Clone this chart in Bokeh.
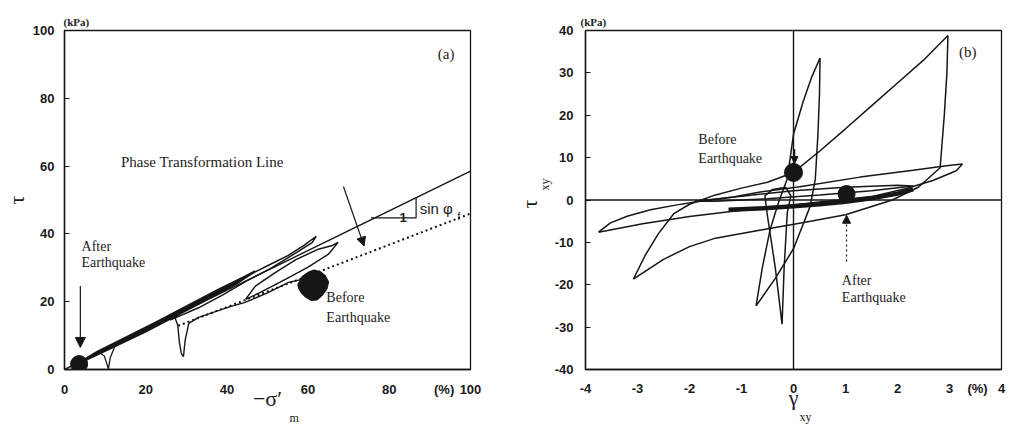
import math
from bokeh.plotting import figure
from bokeh.layouts import row
from bokeh.models import Label, Arrow, NormalHead, Range1d, Span, Title
from bokeh.embed import file_html
from bokeh.resources import INLINE

# ---------------- data: panel (a) ----------------
a_xticks = [0, 20, 40, 60, 80, 100]
a_yticks = [0, 20, 40, 60, 80, 100]
a_unit_pos = 93.5          # where the "(%)" unit text sits on the x axis
failure_x = [0, 100]
failure_y = [0, 58.5]
phase_x = [28, 100]
phase_y = [12.9, 46.0]
tri_x = [75.5, 86.6, 86.6]
tri_y = [44.7, 44.7, 50.7]

band_x = [2.5, 8, 15, 22, 30, 38, 44, 47, 43, 36, 28, 20, 12, 6, 2.5]
band_y = [1.2, 5.2, 9.4, 13.6, 18.6, 23.6, 27.2, 29.0, 25.8, 21.2, 16.2, 11.2, 6.6, 3.2, 1.2]
up_x = [26, 32, 38, 44, 50, 55, 59, 62, 61, 57, 51, 45, 39, 33, 28, 26]
up_y = [14.6, 19.2, 23.4, 27.0, 30.6, 33.6, 36.6, 39.3, 37.4, 34.4, 30.0, 26.2, 22.0, 18.2, 15.6, 14.6]
oval_x = [44.6, 48, 54.4, 60, 65, 67.4, 66, 62.5, 57, 51.9, 47, 44.6]
oval_y = [20.7, 22.6, 26.6, 30.2, 34.0, 37.5, 36.6, 35.5, 32.4, 28.6, 24.6, 20.7]
low_x = [22, 25.5, 27.1, 27.9, 28.3, 28.8, 29.3, 29.7, 30.6, 33, 37, 41, 44.5, 50, 55.2, 60]
low_y = [13.2, 15.0, 15.7, 13.0, 8.0, 4.6, 3.8, 8.5, 13.6, 15.4, 17.0, 18.6, 19.8, 22.6, 25.7, 27.0]
spike_x = [8.6, 9.8, 10.4, 10.8, 11.3, 12.6]
spike_y = [5.0, 4.0, 1.8, 0.2, 3.6, 7.4]
blob_x = [57.5, 58.6, 60.0, 61.5, 63.0, 64.2, 65.0, 64.6, 63.5, 62.2, 60.8, 59.4, 58.4, 57.8, 57.5]
blob_y = [25.0, 27.4, 28.6, 29.3, 28.8, 27.6, 25.8, 23.8, 22.0, 20.6, 20.4, 21.4, 22.6, 23.8, 25.0]
a_after = (3.6, 1.6)

# ---------------- data: panel (b) ----------------
b_xticks = [-4, -3, -2, -1, 0, 1, 2, 3, 4]
b_yticks = [-40, -30, -20, -10, 0, 10, 20, 30, 40]
b_unit_pos = 3.54
big_x = [-3.08, -2.85, -2.6, -2.3, -2.0, -1.5, -1.0, -0.5, 0.0, 0.5, 1.0, 1.5, 2.0, 2.5, 2.97,
         2.95, 2.9, 2.82, 2.4, 1.9, 1.0, 0.2, -0.6, -1.5, -2.0, -2.5, -3.08]
big_y = [-18.7, -13.0, -8.0, -3.2, -1.0, 1.2, 2.8, 4.2, 6.5, 11.5, 16.8, 22.2, 27.6, 33.0, 38.8,
         30.0, 20.0, 7.6, 3.0, 0.0, -3.5, -5.3, -7.0, -9.0, -11.0, -14.0, -18.7]
flat_x = [-3.75, -3.52, -3.2, -2.75, -2.24, -1.86, -1.16, -0.64, 0.12, 1.28, 2.3, 2.94, 3.25,
          3.13, 2.68, 2.17, 1.5, 0.5, -0.5, -1.2, -2.0, -2.9, -3.75]
flat_y = [-7.6, -5.4, -3.85, -2.3, -1.15, -0.4, 0.7, 1.9, 3.1, 5.4, 7.0, 8.1, 8.5,
          6.9, 4.6, 2.7, 0.8, -0.5, -1.8, -2.7, -3.9, -5.6, -7.6]
tall_x = [-0.72, -0.6, -0.45, -0.3, -0.12, 0.0, 0.18, 0.35, 0.51, 0.5, 0.47, 0.42, 0.32, 0.0, -0.35, -0.72]
tall_y = [-25.0, -16.0, -7.0, -1.0, 5.0, 15.5, 23.0, 29.0, 33.5, 25.0, 15.5, 5.0, -1.5, -11.5, -18.5, -25.0]
narrow_x = [-0.22, -0.35, -0.51, -0.55, -0.4, -0.15, -0.05, -0.12, -0.18, -0.22]
narrow_y = [-29.3, -16.0, -3.0, 1.0, 2.5, 3.0, 1.0, -3.0, -16.0, -29.3]
inner_x = [-1.9, -1.0, 0.0, 1.0, 2.0, 2.3, 1.5, 0.5, -0.5, -1.5, -1.9]
inner_y = [-0.3, 0.9, 2.2, 3.0, 3.5, 3.3, 2.2, 1.2, 0.3, -0.3, -0.3]
thick_x = [-1.25, -0.5, 0.0, 0.5, 1.0, 1.5, 2.0, 2.3]
thick_y = [-2.3, -1.9, -1.5, -1.0, -0.4, 0.4, 1.5, 2.5]
b_before = (0.0, 6.5)
b_after = (1.02, 1.4)

INK = "#161616"
TICK_FONT = "Liberation Sans"
SERIF = "Liberation Serif"


def style(p, xticks, yticks, unit_pos, xstand, ystand):
    p.xgrid.visible = False
    p.ygrid.visible = False
    p.outline_line_color = INK
    p.outline_line_width = 1.3
    for ax in (p.xaxis[0], p.yaxis[0]):
        ax.axis_line_color = INK
        ax.axis_line_width = 1.4
        ax.major_tick_in = 5
        ax.major_tick_out = 0
        ax.minor_tick_line_color = None
        ax.major_tick_line_color = INK
        ax.major_label_text_font = TICK_FONT
        ax.major_label_text_font_size = "13px"
        ax.major_label_text_font_style = "bold"
        ax.major_label_text_color = "#1a1a1a"
        ax.axis_label_text_font = SERIF
        ax.axis_label_text_font_style = "normal"
        ax.axis_label_text_font_size = "22px"
        ax.axis_label_text_color = "#1a1a1a"
    p.xaxis[0].major_tick_line_color = None
    p.xaxis[0].ticker = xticks + [unit_pos]
    p.yaxis[0].ticker = yticks
    overrides = {t: str(t) for t in xticks}
    overrides[unit_pos] = "(%)"
    p.xaxis[0].major_label_overrides = overrides
    p.yaxis[0].major_label_overrides = {t: str(t) for t in yticks}
    p.xaxis[0].major_label_standoff = xstand
    p.yaxis[0].major_label_standoff = ystand
    p.background_fill_color = "white"
    p.border_fill_color = "white"


def lab(p, x, y, text, size="14px", font=SERIF, align="left", baseline="middle", angle=0.0, style_="normal"):
    p.add_layout(Label(x=x, y=y, text=text, text_font=font, text_font_size=size,
                       text_color="#1c1c1c", text_align=align, text_baseline=baseline,
                       angle=angle, text_font_style=style_))


def side_text(p, side, text, offset, size, style_="normal", standoff=0):
    p.add_layout(Title(text=text, align="left", offset=offset, standoff=standoff,
                       text_font=SERIF, text_font_size=size, text_font_style=style_,
                       text_color="#1c1c1c"), side)


# ---------------- panel (a) ----------------
pa = figure(width=508, height=427, output_backend="svg", toolbar_location=None,
            x_range=Range1d(0, 100), y_range=Range1d(0, 100),
            min_border_left=61, min_border_right=38, min_border_top=30, min_border_bottom=58)
style(pa, a_xticks, a_yticks, a_unit_pos, 12, 10)
pa.yaxis[0].axis_label = "τ"
pa.yaxis[0].axis_label_standoff = 1
pa.xaxis[0].axis_label = "−σ′"
pa.xaxis[0].axis_label_standoff = -14
side_text(pa, "below", "m", 225, "12px", standoff=-10)
side_text(pa, "above", "(kPa)", -1, "11px", "bold", standoff=5)

pa.line(failure_x, failure_y, line_color=INK, line_width=1.4)
pa.line(phase_x, phase_y, line_color=INK, line_width=2.0, line_dash="2 3")
pa.line(tri_x, tri_y, line_color=INK, line_width=1.2)
pa.patch(band_x, band_y, fill_color=INK, line_color=INK, line_width=2)
pa.line(up_x, up_y, line_color=INK, line_width=1.5)
pa.line(oval_x, oval_y, line_color=INK, line_width=1.5)
pa.line(low_x, low_y, line_color=INK, line_width=1.4)
pa.line(spike_x, spike_y, line_color=INK, line_width=1.3)
pa.patch(blob_x, blob_y, fill_color=INK, line_color=INK, line_width=1.5)
pa.scatter([a_after[0]], [a_after[1]], size=17, fill_color=INK, line_color=INK)

pa.add_layout(Arrow(end=NormalHead(size=10, fill_color=INK, line_color=INK),
                    x_start=3.9, y_start=24.6, x_end=3.9, y_end=6.5, line_color=INK, line_width=1.2))
pa.add_layout(Arrow(end=NormalHead(size=9, fill_color=INK, line_color=INK),
                    x_start=68.7, y_start=54.0, x_end=73.8, y_end=36.4, line_color=INK, line_width=1.2))

lab(pa, 13.9, 61.2, "Phase Transformation Line", size="15px")
lab(pa, 4.2, 36.4, "After", size="14px")
lab(pa, 4.2, 31.6, "Earthquake", size="14px")
lab(pa, 64.5, 21.3, "Before", size="14px")
lab(pa, 64.5, 15.4, "Earthquake", size="14px")
lab(pa, 94.0, 93.0, "(a)", size="15px", align="center")
lab(pa, 83.4, 44.9, "1", size="13px", font=TICK_FONT, align="center", style_="bold")
lab(pa, 87.5, 47.6, "sin φ", size="15px", font=TICK_FONT)
lab(pa, 96.8, 45.2, "f", size="10px", font=TICK_FONT)

# ---------------- panel (b) ----------------
pb = figure(width=500, height=427, output_backend="svg", toolbar_location=None,
            x_range=Range1d(-4, 4), y_range=Range1d(-40, 40),
            min_border_left=77, min_border_right=7, min_border_top=30, min_border_bottom=58)
style(pb, b_xticks, b_yticks, b_unit_pos, 11, 12)
pb.xaxis[0].axis_label = "γ"
pb.xaxis[0].axis_label_standoff = -14
side_text(pb, "below", "xy", 214, "12px", standoff=-10)
side_text(pb, "left", "xy", 179, "12px")
side_text(pb, "left", "τ", 161, "22px", standoff=-12)
side_text(pb, "above", "(kPa)", -5, "11px", "bold", standoff=5)
pb.add_layout(Span(location=0, dimension="width", line_color=INK, line_width=1.4))
pb.add_layout(Span(location=0, dimension="height", line_color=INK, line_width=1.4))

for xs, ys in ((big_x, big_y), (flat_x, flat_y), (tall_x, tall_y), (narrow_x, narrow_y), (inner_x, inner_y)):
    pb.line(xs, ys, line_color=INK, line_width=1.5)
pb.line(thick_x, thick_y, line_color=INK, line_width=4.5)
pb.scatter([b_before[0]], [b_before[1]], size=18, fill_color=INK, line_color=INK)
pb.scatter([b_after[0]], [b_after[1]], size=17, fill_color=INK, line_color=INK)

pb.add_layout(Arrow(end=NormalHead(size=8, fill_color=INK, line_color=INK),
                    x_start=1.02, y_start=-14.5, x_end=1.02, y_end=-3.6, line_color=INK,
                    line_width=1.2, line_dash="2 3"))
pb.add_layout(Arrow(end=NormalHead(size=7, fill_color=INK, line_color=INK),
                    x_start=0.02, y_start=12.0, x_end=0.02, y_end=8.6, line_color=INK, line_width=1.5))

lab(pb, -1.83, 14.3, "Before", size="14px")
lab(pb, -1.83, 9.7, "Earthquake", size="14px")
lab(pb, 0.93, -18.9, "After", size="14px")
lab(pb, 0.93, -23.1, "Earthquake", size="14px")
lab(pb, 3.35, 35.0, "(b)", size="15px", align="center")

layout = row(pa, pb)
open("out.html", "w").write(file_html(layout, INLINE))
